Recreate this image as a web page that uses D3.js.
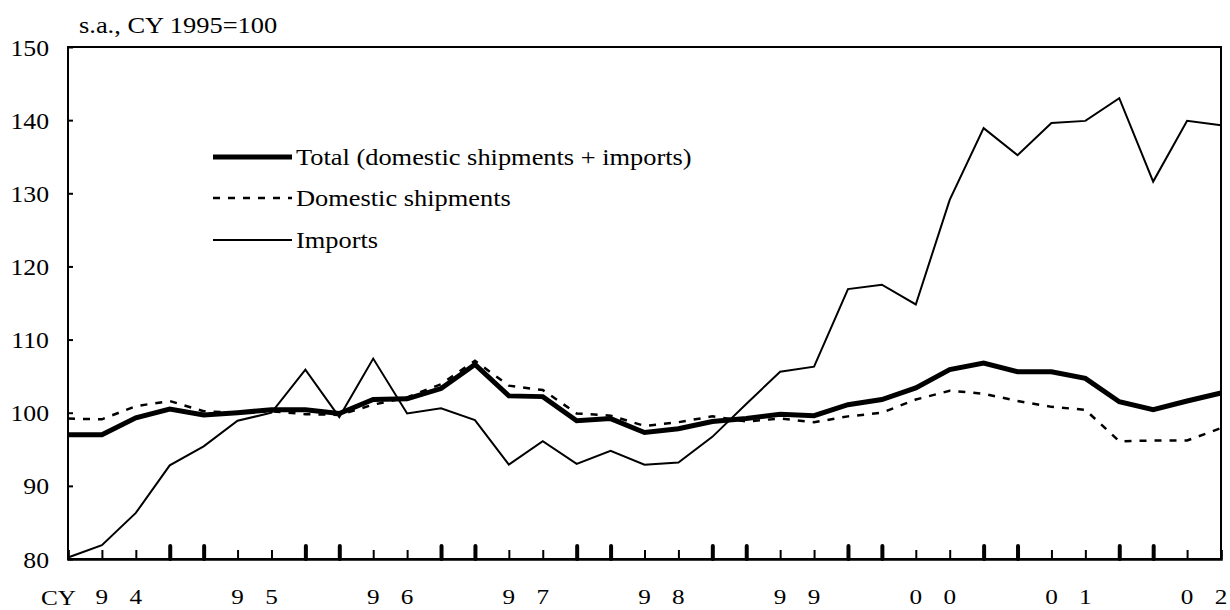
<!DOCTYPE html>
<html>
<head>
<meta charset="utf-8">
<script src="https://cdn.jsdelivr.net/npm/d3@7"></script>
<style>
  html, body { margin: 0; padding: 0; background: #fff; }
  svg { display: block; font-family: "Liberation Serif", "Times New Roman", serif; }
</style>
</head>
<body>
<svg id="chart" width="1230" height="610"></svg>
<script>
// ---- data ----
const quarters = [
  "1994Q1","1994Q2","1994Q3","1994Q4",
  "1995Q1","1995Q2","1995Q3","1995Q4",
  "1996Q1","1996Q2","1996Q3","1996Q4",
  "1997Q1","1997Q2","1997Q3","1997Q4",
  "1998Q1","1998Q2","1998Q3","1998Q4",
  "1999Q1","1999Q2","1999Q3","1999Q4",
  "2000Q1","2000Q2","2000Q3","2000Q4",
  "2001Q1","2001Q2","2001Q3","2001Q4",
  "2002Q1","2002Q2","2002Q3"
];
const totalSeries = [
  97.0, 97.0, 99.3, 100.5, 99.7, 100.0, 100.4, 100.4, 99.9, 101.8,
  101.9, 103.3, 106.6, 102.3, 102.2, 98.9, 99.2, 97.3, 97.8, 98.8,
  99.2, 99.8, 99.6, 101.1, 101.8, 103.4, 105.9, 106.8, 105.6, 105.6,
  104.7, 101.5, 100.4, 101.6, 102.7
];
const domesticSeries = [
  99.2, 99.1, 100.9, 101.6, 100.2, 100.0, 100.2, 99.8, 99.7, 101.1,
  102.1, 103.9, 107.1, 103.7, 103.1, 99.9, 99.6, 98.2, 98.7, 99.5,
  98.8, 99.2, 98.7, 99.5, 100.0, 101.8, 103.0, 102.6, 101.6, 100.8,
  100.4, 96.1, 96.2, 96.2, 97.9
];
const importsSeries = [
  80.2, 81.9, 86.3, 92.8, 95.4, 98.9, 100.0, 105.9, 99.4, 107.4,
  99.9, 100.6, 99.0, 92.9, 96.1, 93.0, 94.8, 92.9, 93.2, 96.7,
  101.2, 105.6, 106.3, 116.9, 117.5, 114.8, 129.1, 138.9, 135.2, 139.6,
  139.9, 143.0, 131.6, 139.9, 139.3
];
const seriesNames = ["Total (domestic shipments + imports)", "Domestic shipments", "Imports"];
const yTicks = [80, 90, 100, 110, 120, 130, 140, 150];
const yearLabels = [
  ["1994", "9", "4"], ["1995", "9", "5"], ["1996", "9", "6"],
  ["1997", "9", "7"], ["1998", "9", "8"], ["1999", "9", "9"],
  ["2000", "0", "0"], ["2001", "0", "1"], ["2002", "0", "2"]
];
const unitLabel = "s.a., CY 1995=100";
const axisPrefix = "CY";

// ---- layout ----
const L = 68, R = 1221, T = 47, B = 559;
const svg = d3.select("#chart");
const x = d3.scalePoint().domain(quarters).range([L, R]);
const y = d3.scaleLinear().domain([80, 150]).range([B, T]);

// frame
svg.append("rect").attr("x", L).attr("y", T).attr("width", R - L).attr("height", B - T)
  .attr("fill", "none").attr("stroke", "#000").attr("stroke-width", 2);

// x ticks
const isBold = i => (i % 4 === 3 || (i % 4 === 0 && i > 0 && i < quarters.length - 1));
const xAxis = svg.append("g").attr("transform", `translate(0,${B})`)
  .call(d3.axisBottom(x).tickSize(-9).tickFormat(""));
xAxis.select(".domain").attr("stroke", "#000").attr("stroke-width", 2.5);
xAxis.selectAll(".tick line")
  .attr("stroke", "#000")
  .attr("stroke-width", (d, i) => isBold(i) ? 4 : 2)
  .attr("y2", (d, i) => isBold(i) ? -13 : -9)
  .attr("stroke-linecap", (d, i) => isBold(i) ? "round" : "butt");

// y ticks
const yAxis = svg.append("g").attr("transform", `translate(${L},0)`)
  .call(d3.axisLeft(y).tickValues(yTicks).tickSize(-5).tickPadding(0));
yAxis.select(".domain").remove();
yAxis.selectAll(".tick line").attr("stroke", "#000").attr("stroke-width", 2);
yAxis.selectAll(".tick text")
  .attr("x", 0).attr("dy", null).attr("y", 8)
  .attr("transform", "translate(-19,0) scale(1.12,1)")
  .attr("text-anchor", "end")
  .attr("font-family", "'Liberation Serif', 'Times New Roman', serif")
  .attr("font-size", 23).attr("fill", "#000");

// x labels
const xl = svg.append("g").attr("font-size", 21).attr("fill", "#000");
yearLabels.forEach(([yr, a, b]) => {
  [[a, yr + "Q2"], [b, yr + "Q3"]].forEach(([ch, q]) => {
    xl.append("text")
      .attr("transform", `translate(${x(q)},604) scale(1.2,1)`)
      .attr("text-anchor", "middle").text(ch);
  });
});
xl.append("text").attr("transform", `translate(76,605) scale(1.2,1)`)
  .attr("text-anchor", "end").text(axisPrefix);

// unit label
svg.append("text").attr("transform", "translate(79,33) scale(1.15,1)")
  .attr("font-size", 23).attr("fill", "#000").text(unitLabel);

// lines
const styles = [
  { data: totalSeries, w: 5, dash: null },
  { data: domesticSeries, w: 2.5, dash: "7,8" },
  { data: importsSeries, w: 2, dash: null }
];
const line = d3.line().x((d, i) => x(quarters[i])).y(d => y(d));
[2, 1, 0].forEach(k => {
  const s = styles[k];
  svg.append("path").datum(s.data)
    .attr("d", line).attr("fill", "none").attr("stroke", "#000")
    .attr("stroke-width", s.w).attr("stroke-dasharray", s.dash)
    .attr("stroke-linejoin", "miter");
});

// legend
const legY = [157, 198, 240];
const leg = svg.append("g");
seriesNames.forEach((name, k) => {
  const s = styles[k];
  leg.append("line").attr("x1", 213).attr("x2", 292)
    .attr("y1", legY[k]).attr("y2", legY[k])
    .attr("stroke", "#000").attr("stroke-width", s.w).attr("stroke-dasharray", s.dash);
  leg.append("text").attr("transform", `translate(296,${legY[k] + 8}) scale(1.1,1)`)
    .attr("font-size", 24).attr("fill", "#000").text(name);
});
</script>
</body>
</html>
